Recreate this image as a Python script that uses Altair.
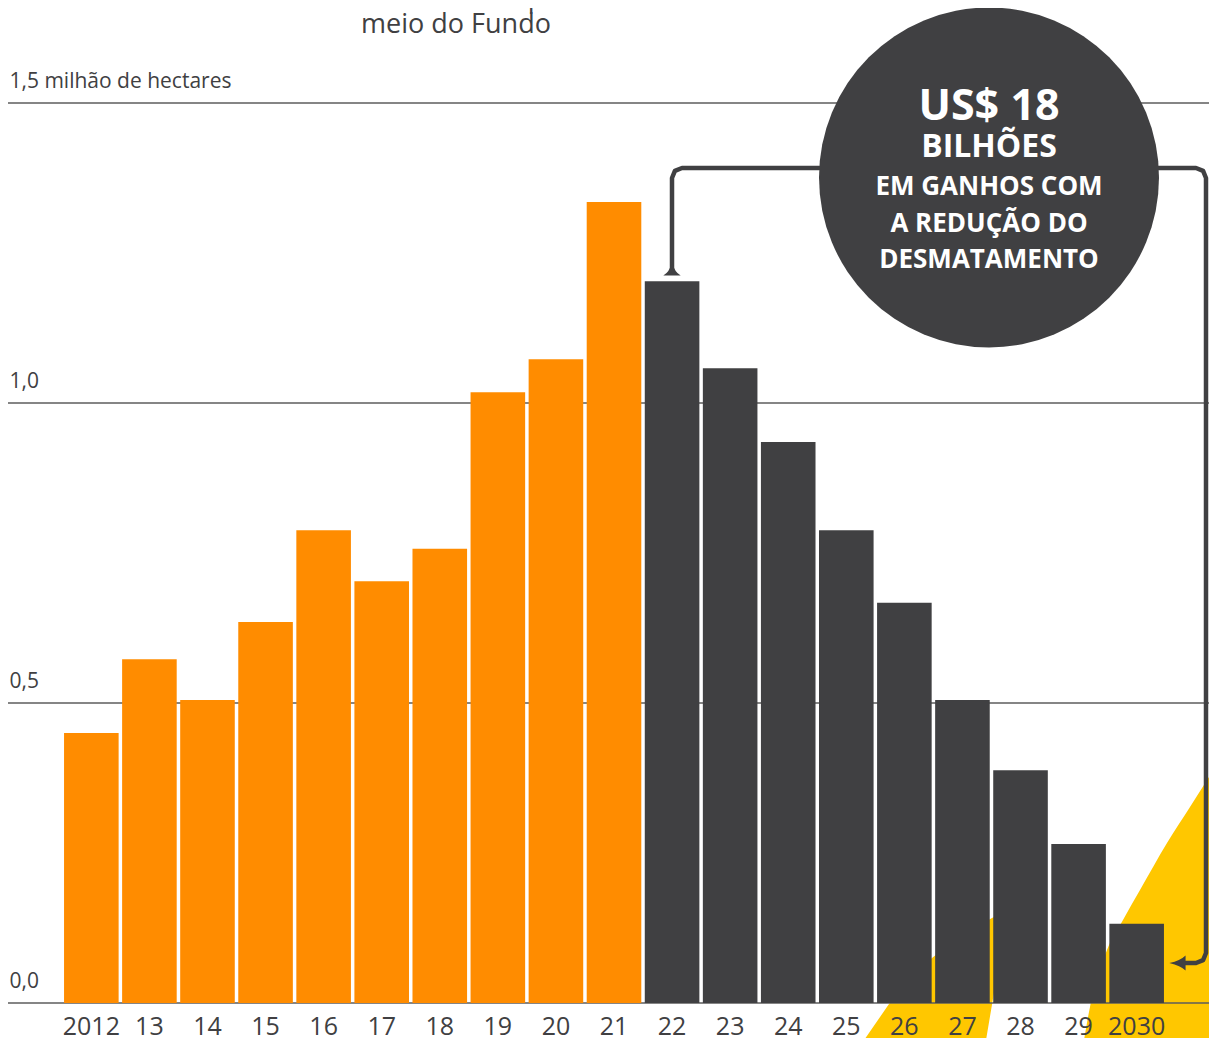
import altair as alt
import pandas as pd

# ---------------- data ----------------
years = ["2012", "13", "14", "15", "16", "17", "18", "19", "20", "21",
         "22", "23", "24", "25", "26", "27", "28", "29", "2030"]
values = [0.45, 0.573, 0.505, 0.635, 0.788, 0.703, 0.757, 1.018, 1.073, 1.335,
          1.203, 1.058, 0.935, 0.788, 0.667, 0.505, 0.388, 0.265, 0.132]
phase = ["real"] * 10 + ["projecao"] * 9
y_ticks = [0.0, 0.5, 1.0, 1.5]

title_lines = ["valores anuais por", "meio do Fundo"]
bubble_lines = ["US$ 18", "BILHÕES", "EM GANHOS COM", "A REDUÇÃO DO", "DESMATAMENTO"]
bubble_font = [43, 32, 26, 26, 26]

# ---------------- decoration geometry (pixels) ----------------
W, H = 1201, 1030
title_x = 448
title_y = [-1, 25]
bubble_x = 981
bubble_cy = 169.5
bubble_d = 340
bubble_text_y = [112, 149, 187, 224, 260]

# yellow wedge right (vertical area: top edge y for each x, down to bottom)
wedge2_x = [1075, 1082, 1099, 1115, 1132, 1159, 1182, 1209, 1225]
wedge2_y = [1038, 999, 942, 912, 882, 835, 799, 757, 735]
# yellow stripe (horizontal area: x from left to right for each y)
wedge1_y = [902, 910, 928, 950, 970, 996, 1038]
wedge1_xl = [1000, 984, 952, 924, 902, 881, 852]
wedge1_xr = [1000, 998.6, 995.6, 991.9, 988.5, 984.1, 977]

# bracket path
RX = 1198
bracket_x = [664, 664, 666.9, 674, RX - 10, RX - 2.9, RX, RX, RX - 2.9, RX - 10, 1172]
bracket_y = [262, 170, 162.9, 160, 160, 162.9, 170, 945, 952.1, 955, 955]

DARK = "#404042"
ORANGE = "#FF8C00"
YELLOW = "#FFC700"
GRID = "#5c5c5c"
FONT = "Open Sans"

# ---------------- layers ----------------
bars_df = pd.DataFrame({"year": years, "value": values, "phase": phase})

y_scale = alt.Scale(domain=[0, 1.5], range=[995, 95], nice=False, zero=True)

bars = alt.Chart(bars_df).mark_bar().encode(
    x=alt.X(
        "year:N", sort=None,
        scale=alt.Scale(range=[54.3, 1157.7], paddingInner=0.06, paddingOuter=0.03),
        axis=alt.Axis(title=None, orient="bottom", offset=-35, domain=False, ticks=False,
                      tickSize=0, grid=False, labelPadding=23, labelBaseline="middle",
                      labelAngle=0, labelFontSize=25, labelColor=DARK, labelFont=FONT,
                      zindex=1),
    ),
    y=alt.Y(
        "value:Q", scale=y_scale,
        axis=alt.Axis(title=None, values=y_ticks, orient="left", domain=False, ticks=False,
                      tickSize=0, grid=False,
                      labelAlign="left", labelBaseline="alphabetic", labelPadding=-1,
                      labelOffset=-16, labelFontSize=21, labelColor=DARK, labelFont=FONT,
                      labelOverlap=False, labelLimit=0,
                      labelExpr="datum.value == 1.5 ? '1,5 milhão de hectares' : replace(format(datum.value, '.1f'), '.', ',')"),
    ),
    color=alt.Color("phase:N", scale=alt.Scale(domain=["real", "projecao"], range=[ORANGE, DARK]),
                    legend=None),
)

grid_df = pd.DataFrame({"v": y_ticks})
gridlines = alt.Chart(grid_df).mark_rule(color=GRID, strokeWidth=1.6).encode(
    y=alt.Y("v:Q", scale=y_scale, axis=None),
    x=alt.value(0), x2=alt.value(W),
)

w2_df = pd.DataFrame({"px": wedge2_x, "py": wedge2_y, "pb": [H + 20] * len(wedge2_x)})
wedge2 = alt.Chart(w2_df).mark_area(color=YELLOW, opacity=1, interpolate="monotone").encode(
    x=alt.X("px:Q", scale=None, axis=None),
    y=alt.Y("py:Q", scale=None, axis=None),
    y2="pb:Q",
)

w1_df = pd.DataFrame({"py": wedge1_y, "xl": wedge1_xl, "xr": wedge1_xr})
wedge1 = alt.Chart(w1_df).mark_area(color=YELLOW, orient="horizontal", opacity=1).encode(
    y=alt.Y("py:Q", scale=None, axis=None),
    x=alt.X("xl:Q", scale=None, axis=None),
    x2="xr:Q",
)

br_df = pd.DataFrame({"px": bracket_x, "py": bracket_y, "o": list(range(len(bracket_x)))})
bracket = alt.Chart(br_df).mark_line(color=DARK, strokeWidth=4.5, strokeJoin="round").encode(
    x=alt.X("px:Q", scale=None, axis=None),
    y=alt.Y("py:Q", scale=None, axis=None),
    order="o:Q",
)

arrow_up_df = pd.DataFrame({"px": [664], "py": [261]})
arrow_up = alt.Chart(arrow_up_df).mark_point(
    shape="M0,-0.8 Q-0.3,0.4 -1,0.75 L1,0.75 Q0.3,0.4 0,-0.8 Z",
    size=300, filled=True, color=DARK, opacity=1, strokeWidth=0,
).encode(x=alt.X("px:Q", scale=None, axis=None), y=alt.Y("py:Q", scale=None, axis=None))

arrow_left_df = pd.DataFrame({"px": [1170], "py": [955]})
arrow_left = alt.Chart(arrow_left_df).mark_point(
    shape="M-1,0 Q0.3,-0.3 0.875,-0.875 L0.875,0.875 Q0.3,0.3 -1,0 Z",
    size=300, filled=True, color=DARK, opacity=1, strokeWidth=0,
).encode(x=alt.X("px:Q", scale=None, axis=None), y=alt.Y("py:Q", scale=None, axis=None))

circle_df = pd.DataFrame({"px": [bubble_x], "py": [bubble_cy]})
bubble = alt.Chart(circle_df).mark_circle(
    size=bubble_d ** 2, color=DARK, opacity=1
).encode(x=alt.X("px:Q", scale=None, axis=None), y=alt.Y("py:Q", scale=None, axis=None))

btext_df = pd.DataFrame({"t": bubble_lines, "py": bubble_text_y, "fs": bubble_font,
                         "px": [bubble_x] * len(bubble_lines)})
bubble_text = alt.Chart(btext_df).mark_text(
    color="white", font=FONT, fontWeight="bold", align="center", baseline="alphabetic"
).encode(
    x=alt.X("px:Q", scale=None, axis=None),
    y=alt.Y("py:Q", scale=None, axis=None),
    size=alt.Size("fs:Q", scale=None, legend=None),
    text="t:N",
)

title_df = pd.DataFrame({"t": title_lines, "py": title_y, "px": [title_x] * len(title_lines)})
title = alt.Chart(title_df).mark_text(
    color=DARK, font=FONT, fontSize=27, align="center", baseline="alphabetic"
).encode(
    x=alt.X("px:Q", scale=None, axis=None),
    y=alt.Y("py:Q", scale=None, axis=None),
    text="t:N",
)

chart = alt.layer(
    wedge2, wedge1, gridlines, bars, bracket, arrow_up, arrow_left, bubble, bubble_text, title
).resolve_scale(
    x="independent", y="independent", color="independent", size="independent"
).properties(
    width=W, height=H, padding=0,
    autosize=alt.AutoSizeParams(type="none"),
    background="white",
).configure_view(stroke=None)

chart.save("out.html", embed_options={"renderer": "svg", "actions": False})
